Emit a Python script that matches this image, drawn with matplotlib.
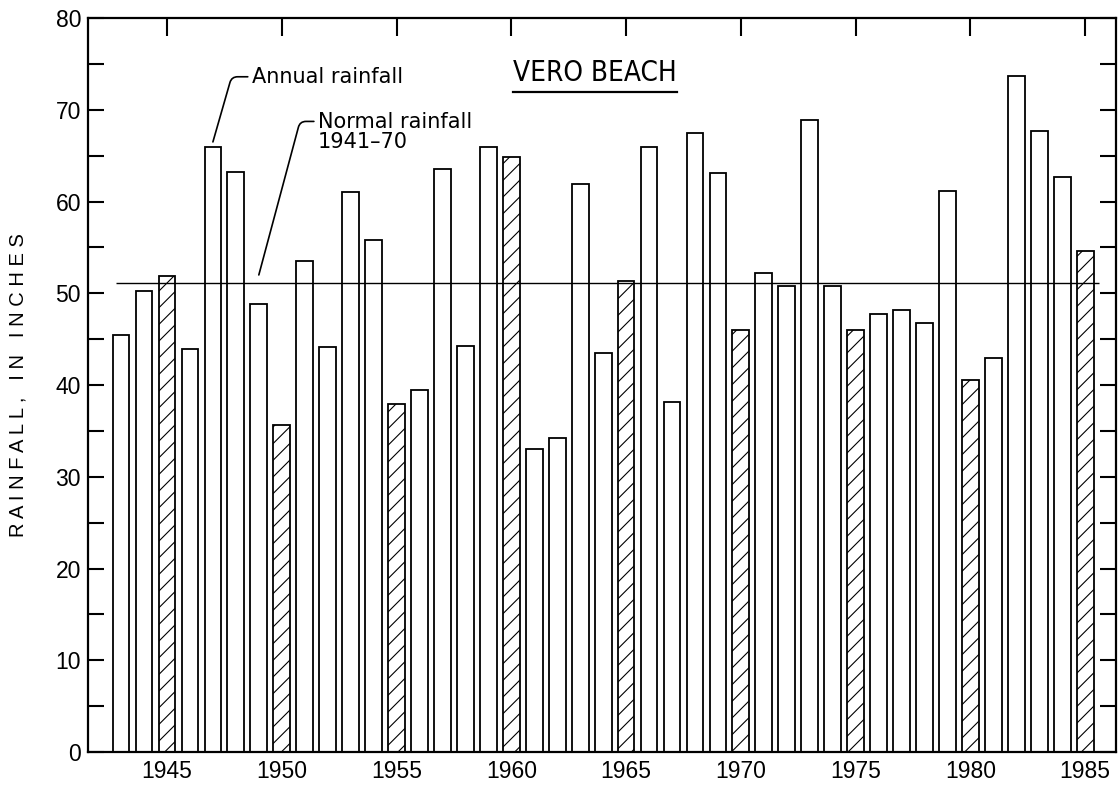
import matplotlib
matplotlib.use("Agg")
import matplotlib.pyplot as plt
from matplotlib.lines import Line2D

plt.rcParams['font.family'] = ['Liberation Sans', 'DejaVu Sans']
plt.rcParams['hatch.linewidth'] = 0.8

# annual rainfall at Vero Beach, inches
years = list(range(1943, 1986))
rainfall = [45.4, 50.2, 51.9, 43.9, 65.9, 63.2, 48.8, 35.6, 53.5, 44.2,
            61.0, 55.8, 37.9, 39.5, 63.6, 44.3, 65.9, 64.9, 33.0, 34.2,
            61.9, 43.5, 51.3, 65.9, 38.2, 67.5, 63.1, 46.0, 52.2, 50.8,
            68.9, 50.8, 46.0, 47.7, 48.2, 46.8, 61.2, 40.6, 43.0, 73.7,
            67.7, 62.7, 54.6]
normal_rainfall = 51.1   # 1941-70 normal
year_ticks = list(range(1945, 1986, 5))
y_ticks = list(range(0, 81, 10))

fig = plt.figure(figsize=(11.2, 7.85), dpi=100)
ax = fig.add_axes([0.0786, 0.042, 0.918, 0.935])

# every fifth year is hatched
hatches = ['//' if y % 5 == 0 else '' for y in years]
ax.bar(years, rainfall, width=0.73, facecolor='white', edgecolor='black',
       linewidth=1.3, hatch=hatches, zorder=2)

ax.hlines(normal_rainfall, 1942.78, 1985.6, color='black', linewidth=1.0, zorder=3)

ax.set_xlim(1941.56, 1986.35)
ax.set_ylim(0, 80)
ax.set_xticks(year_ticks)
ax.set_xticklabels([str(y) for y in year_ticks], fontsize=16.5)
ax.set_yticks(y_ticks)
ax.set_yticks(range(5, 80, 10), minor=True)
ax.set_yticklabels([str(v) for v in y_ticks], fontsize=16.5)
ax.tick_params(axis='x', direction='in', top=True, length=13, width=1.5, pad=6)
ax.tick_params(axis='y', which='both', direction='in', right=True, length=11.5,
               width=1.5, pad=5)
for s in ax.spines.values():
    s.set_linewidth(1.6)

ylab = '   '.join(' '.join(w) for w in ['RAINFALL,', 'IN', 'INCHES'])
ax.set_ylabel(ylab, fontsize=14.5, labelpad=20)

# labels with leader lines
ax.annotate('Annual rainfall', xy=(years[4], rainfall[4] + 0.6),
            xytext=(1948.7, 73.6), ha='left', va='center', fontsize=15,
            family=['DejaVu Sans'],
            arrowprops=dict(arrowstyle='-', lw=1.2, relpos=(0, 0.5),
                            shrinkA=1, shrinkB=0,
                            connectionstyle='angle,angleA=0,angleB=74,rad=6'))
ax.annotate('Normal rainfall\n1941\u201370', xy=(1949.0, normal_rainfall + 0.9),
            xytext=(1951.58, 67.6), ha='left', va='center', fontsize=15,
            family=['DejaVu Sans'], linespacing=1.0,
            arrowprops=dict(arrowstyle='-', lw=1.2, relpos=(0, 0.76),
                            shrinkA=1, shrinkB=0,
                            connectionstyle='angle,angleA=0,angleB=75,rad=6'))

title = ax.text(1963.65, 74.0, 'VERO BEACH', ha='center', va='center',
                fontsize=20, family=['DejaVu Sans'], fontstretch='condensed')

# underline the station name
fig.canvas.draw()
bb = title.get_window_extent().transformed(fig.transFigure.inverted())
yl = bb.y0 - 0.006
fig.add_artist(Line2D([bb.x0, bb.x1], [yl, yl], color='black', linewidth=1.6,
                      transform=fig.transFigure))

fig.savefig('out.png', dpi=100)
